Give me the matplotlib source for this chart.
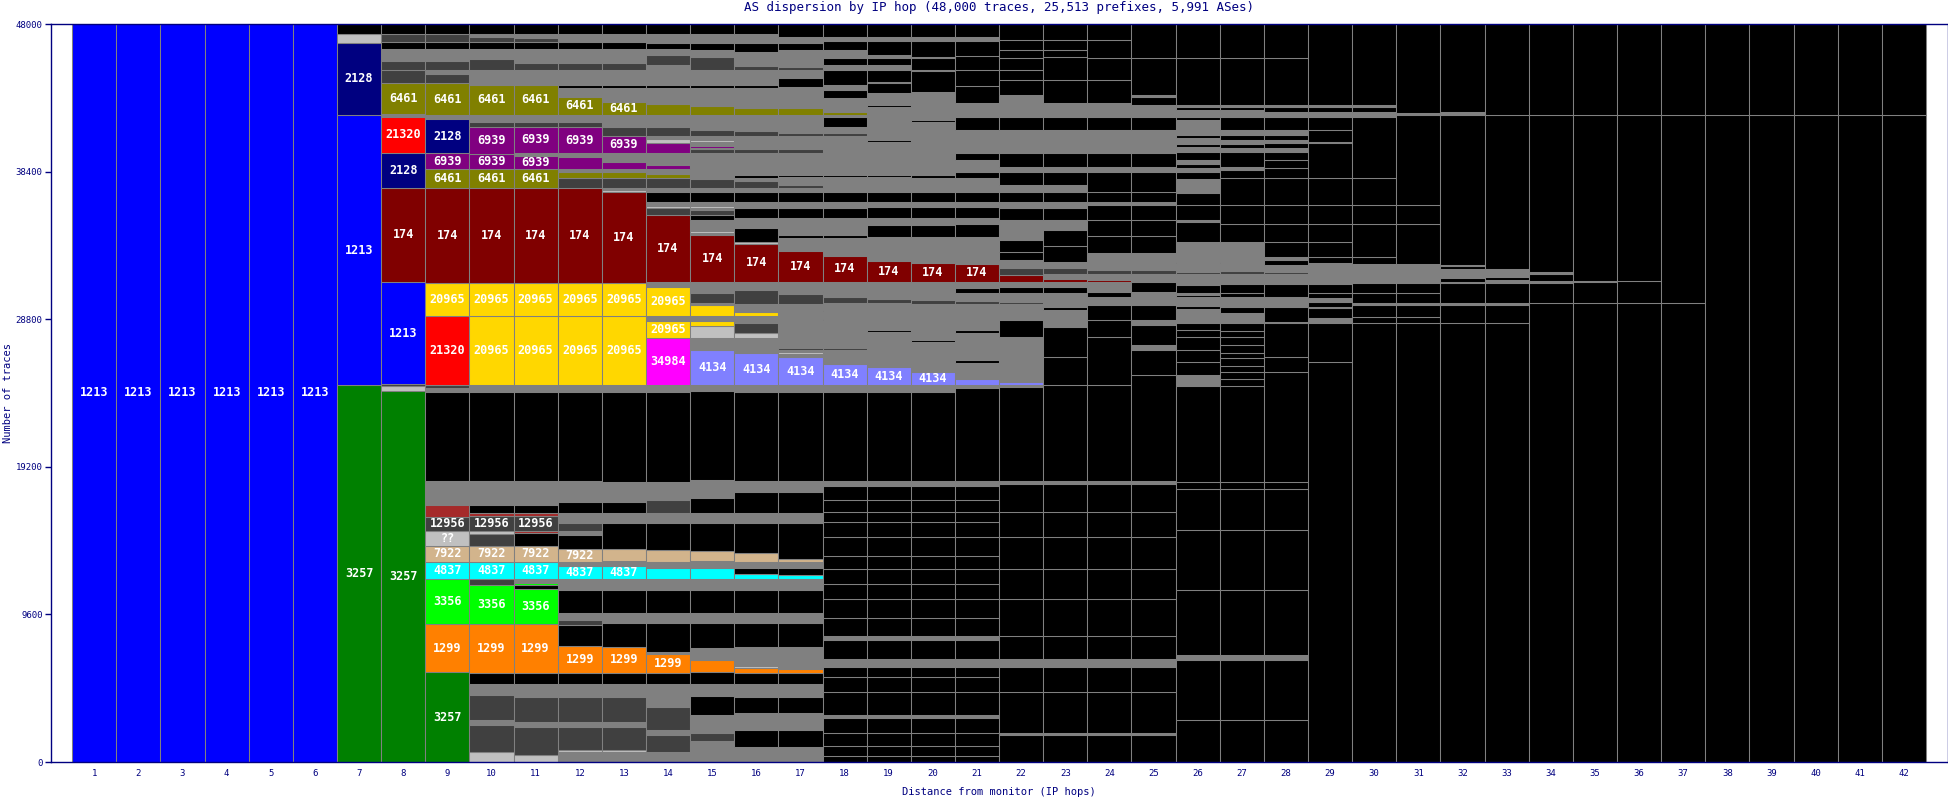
import matplotlib.pyplot as plt

plt.rcParams["font.family"] = ["DejaVu Sans Mono"]

# colour per AS; k/g/d/l are the unnamed slices (black, grey, dark, light)
as_colors = {
    "1213": "#0000ff", "2128": "#000080", "6461": "#808000", "21320": "#ff0000",
    "6939": "#800080", "174": "#800000", "20965": "#ffd700", "34984": "#ff00ff",
    "4134": "#8080ff", "3257": "#008000", "12956": "#404040", "??": "#c0c0c0",
    "7922": "#d2b48c", "4837": "#00ffff", "3356": "#00ff00", "1299": "#ff8000",
    "br": "#a52a2a", "k": "#000000", "g": "#808080", "d": "#404040", "l": "#c0c0c0",
}
unnamed = {"br", "k", "g", "d", "l"}
label_min = 800  # traces needed before the AS number is printed

# ---- slices per hop, listed from the top of the bar down (number of traces) ----
col01_06 = [("1213", 48000)]

col07 = [("k", 650), ("l", 553), ("2128", 4715), ("1213", 17561), ("3257", 24520)]

col08 = [("k", 650), ("d", 553), ("k", 423), ("g", 761), ("d", 605), ("d", 820), ("6461", 2062),
         ("g", 176), ("21320", 2315), ("2128", 2276), ("174", 6140), ("1213", 6654), ("d", 130),
         ("l", 293), ("3257", 24142)]

col09 = [("k", 650), ("d", 540), ("k", 455), ("g", 741), ("d", 605), ("g", 260), ("d", 605),
         ("6461", 2062), ("g", 260), ("2128", 2231), ("6939", 1041), ("6461", 1236), ("174", 6179),
         ("20965", 2127), ("21320", 4488), ("d", 195), ("g", 241), ("k", 5789), ("g", 1580),
         ("br", 761), ("12956", 911), ("??", 976), ("7922", 1041), ("4837", 1125), ("3356", 2927),
         ("1299", 3141), ("3257", 5834)]

col10 = [("k", 650), ("g", 176), ("d", 364), ("k", 436), ("g", 670), ("d", 696), ("g", 976),
         ("6461", 1951), ("g", 436), ("d", 325), ("6939", 1763), ("6939", 1021), ("6461", 1236),
         ("174", 6127), ("20965", 2185), ("20965", 4468), ("g", 436), ("k", 5789), ("g", 1580),
         ("k", 540), ("br", 176), ("12956", 976), ("l", 215), ("d", 761), ("7922", 1041),
         ("4837", 1106), ("d", 410), ("3356", 2537), ("1299", 3148), ("k", 735), ("g", 715),
         ("d", 1626), ("g", 325), ("d", 1737), ("l", 670)]

col11 = [("k", 650), ("g", 241), ("d", 299), ("k", 436), ("g", 891), ("d", 475), ("g", 976),
         ("6461", 1951), ("g", 436), ("d", 325), ("6939", 1730), ("g", 156), ("6939", 898),
         ("6461", 1236), ("174", 6127), ("20965", 2185), ("20965", 4468), ("g", 436), ("k", 5789),
         ("g", 1580), ("k", 540), ("br", 176), ("12956", 956), ("br", 130), ("k", 865),
         ("7922", 1041), ("4837", 1106), ("g", 260), ("3356", 130), ("k", 260), ("3356", 2296),
         ("1299", 3148), ("k", 735), ("g", 826), ("d", 1646), ("g", 325), ("d", 1821), ("l", 455)]

col12 = [("k", 650), ("g", 540), ("k", 436), ("g", 891), ("d", 475), ("g", 976), ("k", 215),
         ("g", 546), ("6461", 1190), ("g", 436), ("d", 325), ("6939", 1730), ("g", 260),
         ("6939", 780), ("g", 156), ("6461", 429), ("d", 650), ("174", 6140), ("20965", 2185),
         ("20965", 4468), ("g", 436), ("k", 5789), ("g", 1366), ("k", 754), ("g", 650), ("d", 481),
         ("g", 280), ("k", 911), ("7922", 826), ("g", 280), ("4837", 846), ("g", 715), ("k", 1515),
         ("g", 436), ("d", 293), ("k", 1379), ("1299", 1743), ("k", 748), ("g", 826), ("d", 1646),
         ("g", 325), ("d", 1496), ("l", 130), ("g", 650)]

col13 = [("k", 650), ("g", 540), ("k", 436), ("g", 891), ("d", 475), ("g", 976), ("k", 215),
         ("g", 872), ("6461", 865), ("g", 780), ("d", 605), ("6939", 1106), ("g", 546),
         ("6939", 494), ("g", 156), ("6461", 429), ("d", 650), ("g", 111), ("l", 111),
         ("174", 5919), ("20965", 2185), ("20965", 4468), ("g", 436), ("k", 5873), ("g", 1281),
         ("k", 754), ("g", 650), ("k", 1691), ("7922", 780), ("g", 306), ("4837", 846), ("g", 715),
         ("k", 1515), ("g", 650), ("k", 1522), ("1299", 1678), ("k", 748), ("g", 826), ("d", 1646),
         ("g", 325), ("d", 1496), ("l", 130), ("g", 650)]

col14 = [("k", 650), ("g", 566), ("k", 410), ("g", 390), ("d", 650), ("g", 1301), ("k", 215),
         ("g", 1021), ("6461", 715), ("g", 800), ("d", 566), ("g", 215), ("l", 221), ("6939", 689),
         ("g", 761), ("6939", 280), ("g", 306), ("6461", 280), ("d", 650), ("g", 221), ("k", 650),
         ("g", 280), ("l", 150), ("d", 436), ("174", 4377), ("g", 286), ("20965", 1906), ("g", 306),
         ("20965", 1145), ("34984", 3037), ("g", 436), ("k", 5873), ("g", 1171), ("d", 865),
         ("g", 650), ("k", 1756), ("7922", 741), ("g", 390), ("4837", 735), ("g", 715), ("k", 1515),
         ("g", 650), ("k", 1847), ("g", 150), ("1299", 1203), ("k", 748), ("g", 1476), ("d", 1515),
         ("g", 325), ("d", 1086), ("g", 670)]

col15 = [("k", 650), ("g", 566), ("k", 475), ("g", 455), ("d", 846), ("g", 976), ("k", 215),
         ("g", 1151), ("6461", 585), ("g", 976), ("d", 390), ("g", 260), ("l", 111), ("g", 280),
         ("6939", 130), ("g", 85), ("d", 221), ("g", 995), ("6939", 65), ("g", 670), ("d", 546),
         ("g", 260), ("k", 650), ("g", 280), ("l", 130), ("g", 130), ("d", 325), ("k", 325),
         ("g", 696), ("l", 169), ("g", 111), ("174", 3037), ("g", 754), ("d", 650), ("g", 111),
         ("20965", 715), ("g", 325), ("20965", 325), ("l", 780), ("g", 807), ("4134", 2231),
         ("g", 436), ("k", 5789), ("g", 1145), ("k", 976), ("g", 650), ("k", 1847), ("7922", 650),
         ("g", 429), ("4837", 696), ("g", 715), ("k", 1515), ("g", 650), ("k", 1626), ("g", 807),
         ("1299", 767), ("k", 748), ("g", 826), ("k", 1190), ("g", 1190), ("d", 546), ("g", 1343)]

col16 = [("k", 650), ("g", 566), ("k", 585), ("g", 930), ("d", 260), ("g", 976), ("k", 215),
         ("g", 1262), ("6461", 475), ("g", 1041), ("d", 325), ("g", 696), ("6939", 65), ("g", 104),
         ("d", 221), ("g", 1450), ("k", 215), ("g", 176), ("d", 436), ("g", 260), ("k", 650),
         ("g", 429), ("k", 650), ("g", 650), ("k", 872), ("l", 150), ("174", 2452), ("g", 540),
         ("d", 930), ("g", 481), ("20965", 280), ("g", 371), ("6939", 65), ("d", 689), ("l", 325),
         ("g", 976), ("4134", 2062), ("g", 436), ("k", 5789), ("g", 715), ("k", 1405), ("g", 650),
         ("k", 1951), ("7922", 546), ("g", 429), ("k", 351), ("4837", 345), ("g", 715), ("k", 1515),
         ("g", 650), ("k", 1522), ("g", 1236), ("l", 150), ("1299", 293), ("k", 748), ("g", 826),
         ("k", 1080), ("g", 1086), ("k", 1086), ("g", 995)]

col17 = [("k", 826), ("g", 390), ("k", 475), ("g", 1125), ("d", 176), ("g", 540), ("k", 546),
         ("g", 1405), ("6461", 436), ("g", 1151), ("d", 215), ("g", 306), ("l", 65), ("g", 494),
         ("d", 221), ("g", 1450), ("k", 111), ("g", 540), ("d", 215), ("g", 221), ("k", 650),
         ("g", 429), ("k", 650), ("g", 1086), ("k", 215), ("g", 826), ("174", 1997), ("g", 820),
         ("d", 650), ("g", 676), ("20965", 65), ("g", 2081), ("d", 150), ("g", 111), ("l", 150),
         ("g", 215), ("4134", 1802), ("g", 436), ("k", 5789), ("g", 715), ("k", 1405), ("g", 650),
         ("k", 2341), ("7922", 156), ("g", 429), ("k", 436), ("4837", 260), ("g", 715), ("k", 1515),
         ("g", 650), ("k", 1522), ("g", 1470), ("1299", 208), ("k", 748), ("g", 826), ("k", 1080),
         ("g", 1086), ("k", 1086), ("g", 995)]

lower_a = [("g", 345), ("k", 911), ("k", 780), ("k", 650), ("k", 976), ("k", 1236), ("k", 846),
           ("k", 976), ("k", 976), ("k", 1236), ("k", 1171), ("g", 260), ("k", 1236), ("g", 520),
           ("k", 650), ("k", 976), ("k", 1496), ("g", 195), ("k", 976), ("k", 846), ("k", 650),
           ("k", 386)]

col18 = [("k", 826), ("g", 260), ("k", 605), ("g", 540), ("k", 436), ("g", 325), ("k", 976),
         ("g", 325), ("k", 540), ("g", 872), ("6461", 215), ("g", 111), ("k", 650), ("g", 429),
         ("d", 176), ("g", 306), ("l", 65), ("g", 2166), ("k", 111), ("g", 650), ("d", 65),
         ("g", 260), ("k", 650), ("g", 429), ("k", 650), ("g", 1086), ("k", 215), ("g", 1151),
         ("174", 1672), ("g", 585), ("d", 104), ("g", 286), ("d", 429), ("g", 436), ("k", 65),
         ("g", 540), ("k", 65), ("g", 1821), ("d", 111), ("g", 371), ("l", 65), ("g", 475),
         ("4134", 1366), ("g", 436), ("k", 5789)] + lower_a

col19 = [("k", 826), ("g", 260), ("k", 930), ("g", 215), ("k", 436), ("g", 325), ("k", 761),
         ("g", 104), ("k", 650), ("g", 761), ("k", 130), ("g", 2146), ("k", 130), ("g", 2146),
         ("k", 111), ("g", 976), ("k", 650), ("g", 325), ("k", 754), ("g", 436), ("k", 761),
         ("g", 1561), ("174", 1366), ("g", 1145), ("d", 260), ("g", 1737), ("k", 130), ("g", 2296),
         ("4134", 1151), ("g", 436), ("k", 5789)] + lower_a

col20 = [("k", 826), ("g", 260), ("k", 1041), ("g", 104), ("k", 761), ("g", 65), ("k", 1346),
         ("g", 1841), ("k", 130), ("g", 3447), ("k", 215), ("g", 872), ("k", 650), ("g", 325),
         ("k", 754), ("g", 436), ("k", 761), ("g", 1691), ("174", 1236), ("g", 1190), ("d", 260),
         ("g", 2341), ("k", 130), ("g", 1971), ("4134", 826), ("g", 436), ("k", 5789)] + lower_a

col21 = [("k", 826), ("g", 260), ("k", 995), ("k", 911), ("k", 1041), ("k", 1125), ("g", 872),
         ("k", 865), ("g", 1515), ("k", 436), ("g", 761), ("k", 429), ("g", 872), ("k", 650),
         ("g", 325), ("k", 754), ("g", 371), ("k", 826), ("g", 1776), ("174", 1151), ("g", 429),
         ("k", 325), ("g", 501), ("d", 195), ("g", 1691), ("k", 195), ("g", 1756), ("k", 195),
         ("g", 1041), ("4134", 390), ("g", 215), ("k", 6010)] + lower_a

lower_b = [("g", 215), ("k", 1821), ("k", 1626), ("k", 2081), ("k", 1951), ("k", 2406), ("k", 1496),
           ("g", 520), ("k", 1626), ("k", 2667), ("g", 130), ("k", 1756)]

col22 = [("k", 1041), ("k", 650), ("k", 520), ("k", 780), ("k", 650), ("k", 976), ("g", 1411),
         ("k", 865), ("g", 1515), ("k", 872), ("g", 325), ("k", 865), ("g", 436), ("k", 650),
         ("g", 429), ("k", 761), ("g", 1301), ("k", 780), ("k", 520), ("g", 540), ("d", 436),
         ("174", 436), ("g", 325), ("k", 429), ("g", 546), ("d", 150), ("g", 1041), ("k", 1086),
         ("g", 2927), ("4134", 215), ("g", 111), ("k", 6114)] + lower_b

col23 = [("k", 1041), ("k", 650), ("k", 455), ("k", 1496), ("k", 1515), ("g", 872), ("k", 865),
         ("g", 1515), ("k", 872), ("g", 325), ("k", 865), ("g", 436), ("k", 650), ("g", 429),
         ("k", 761), ("g", 650), ("k", 1041), ("k", 1021), ("g", 429), ("d", 371), ("g", 325),
         ("174", 176), ("g", 325), ("k", 429), ("g", 872), ("k", 215), ("g", 1086), ("k", 1951),
         ("k", 1841), ("k", 6224)] + lower_b

col24 = [("k", 1041), ("k", 1190), ("k", 1411), ("k", 1515), ("g", 872), ("k", 865), ("g", 1515),
         ("k", 872), ("g", 325), ("k", 1301), ("k", 650), ("g", 215), ("k", 976), ("k", 1041),
         ("k", 1125), ("g", 1086), ("d", 260), ("g", 390), ("174", 111), ("g", 650), ("k", 325),
         ("g", 540), ("k", 976), ("k", 1086), ("k", 3141), ("k", 6224)] + lower_b

col25 = [("k", 2211), ("k", 2406), ("g", 150), ("k", 501), ("g", 761), ("k", 865), ("g", 1515),
         ("k", 872), ("g", 325), ("k", 1301), ("k", 650), ("g", 215), ("k", 976), ("k", 1041),
         ("k", 1125), ("g", 1086), ("d", 260), ("g", 436), ("174", 65), ("k", 670), ("g", 845),
         ("k", 976), ("g", 325), ("k", 1301), ("g", 325), ("k", 1626), ("k", 6875)] + lower_b

lower_c = [("k", 494), ("k", 2647), ("k", 3902), ("k", 4228), ("g", 325), ("k", 3902), ("k", 2732)]

col26 = [("k", 2231), ("k", 3037), ("g", 111), ("k", 215), ("g", 436), ("k", 215), ("g", 976),
         ("k", 215), ("g", 371), ("k", 176), ("g", 325), ("k", 540), ("g", 260), ("k", 280),
         ("g", 221), ("k", 494), ("g", 911), ("k", 761), ("k", 976), ("g", 111), ("k", 1301),
         ("g", 1301), ("k", 104), ("g", 546), ("d", 150), ("g", 715), ("k", 501), ("g", 150),
         ("k", 150), ("g", 566), ("k", 215), ("g", 872), ("k", 475), ("k", 475), ("k", 826),
         ("k", 780), ("k", 846), ("g", 715), ("k", 6224)] + lower_c

col27 = [("k", 2231), ("k", 3037), ("g", 150), ("k", 176), ("g", 436), ("k", 865), ("g", 325),
         ("k", 325), ("g", 260), ("k", 241), ("g", 260), ("k", 976), ("g", 215), ("k", 540),
         ("k", 1737), ("k", 1236), ("k", 1151), ("g", 1301), ("k", 104), ("g", 501), ("d", 195),
         ("g", 670), ("k", 546), ("k", 299), ("g", 611), ("k", 429), ("g", 611), ("k", 540),
         ("k", 410), ("k", 501), ("k", 501), ("k", 364), ("k", 501), ("k", 371), ("k", 475),
         ("k", 436), ("k", 6244)] + lower_c

col28 = [("k", 2231), ("k", 3037), ("g", 150), ("k", 286), ("g", 325), ("k", 865), ("g", 325),
         ("k", 325), ("g", 176), ("k", 364), ("g", 221), ("k", 540), ("k", 540), ("k", 650),
         ("k", 1737), ("k", 1236), ("k", 1151), ("k", 1015), ("g", 176), ("k", 325), ("g", 475),
         ("d", 111), ("g", 670), ("k", 807), ("g", 650), ("k", 976), ("g", 104), ("k", 2172),
         ("k", 976), ("k", 7155)] + lower_c

col29 = [("k", 5268), ("g", 150), ("k", 286), ("g", 325), ("k", 865), ("k", 761), ("g", 104),
         ("k", 2276), ("k", 1737), ("k", 1236), ("k", 1151), ("k", 1015), ("k", 390), ("g", 1346),
         ("k", 566), ("k", 364), ("g", 221), ("k", 325), ("g", 104), ("k", 650), ("g", 325),
         ("k", 2498), ("k", 26035)]

col30 = [("k", 5268), ("g", 111), ("k", 325), ("g", 325), ("k", 4006), ("k", 1737), ("k", 1236),
         ("k", 2166), ("k", 436), ("g", 1216), ("k", 689), ("k", 611), ("g", 150), ("k", 800),
         ("k", 390), ("k", 28533)]

col31 = [("k", 5808), ("g", 111), ("k", 5854), ("k", 1236), ("k", 2602), ("g", 1216), ("k", 689),
         ("k", 611), ("g", 150), ("k", 800), ("k", 390), ("k", 28533)]

col32 = [("k", 5704), ("g", 215), ("k", 9756), ("g", 65), ("k", 215), ("g", 585), ("k", 221),
         ("g", 65), ("k", 1301), ("g", 150), ("k", 1151), ("k", 28572)]

col33 = [("k", 5919), ("k", 10036), ("g", 481), ("k", 215), ("g", 176), ("k", 1301), ("g", 150),
         ("k", 1151), ("k", 28572)]

col34 = [("k", 5919), ("k", 10192), ("g", 150), ("k", 436), ("g", 130), ("k", 1301), ("k", 29873)]
col35 = [("k", 5919), ("k", 10777), ("g", 65), ("k", 1366), ("k", 29873)]
col36 = [("k", 5919), ("k", 10797), ("k", 1411), ("k", 29873)]
col37 = [("k", 5919), ("k", 12208), ("k", 29873)]
col38_42 = [("k", 5919), ("k", 42081)]

columns = [col01_06] * 6 + [col07, col08, col09, col10, col11, col12, col13, col14, col15,
                            col16, col17, col18, col19, col20, col21, col22, col23, col24,
                            col25, col26, col27, col28, col29, col30, col31, col32, col33,
                            col34, col35, col36, col37] + [col38_42] * 5
hops = list(range(1, len(columns) + 1))
y_ticks = [0, 9600, 19200, 28800, 38400, 48000]

navy = "#000080"
fig = plt.figure(figsize=(19.49, 8.0), dpi=100)
ax = fig.add_axes([51 / 1949, 38 / 800, 1897 / 1949, 738 / 800])

for hop, segs in zip(hops, columns):
    # bars are stacked from the bottom up
    segs = segs[::-1]
    heights = [c for _, c in segs]
    bottoms = [sum(heights[:i]) for i in range(len(heights))]
    colors = [as_colors[k] for k, _ in segs]
    ax.bar([hop] * len(segs), heights, bottom=bottoms, width=1.0, color=colors,
           edgecolor="#808080", linewidth=0.75)
    for (key, count), b in zip(segs, bottoms):
        if key not in unnamed and count >= label_min:
            ax.text(hop, b + count / 2, key, ha="center", va="center", color="white",
                    fontsize=8.5, fontweight="bold")

ax.set_xlim(0.02, 43.0)
ax.set_ylim(0, 48000)
ax.set_xticks(hops)
ax.set_yticks(y_ticks)
ax.tick_params(axis="x", length=0, pad=5, labelsize=6.5, colors=navy)
ax.tick_params(axis="y", length=4, width=1, direction="out", pad=2, labelsize=6.5, colors=navy)
for sp in ax.spines.values():
    sp.set_color(navy)
    sp.set_linewidth(1)

fig.text(999 / 1949, 1 - 8 / 800, "AS dispersion by IP hop (48,000 traces, 25,513 prefixes, 5,991 ASes)",
         ha="center", va="center", color=navy, fontsize=9)
fig.text(999 / 1949, 1 - 792 / 800, "Distance from monitor (IP hops)", ha="center", va="center",
         color=navy, fontsize=7.5)
fig.text(8 / 1949, 1 - 393 / 800, "Number of traces", ha="center", va="center", rotation=90,
         color=navy, fontsize=7.5)

fig.savefig("out.png", dpi=100)
